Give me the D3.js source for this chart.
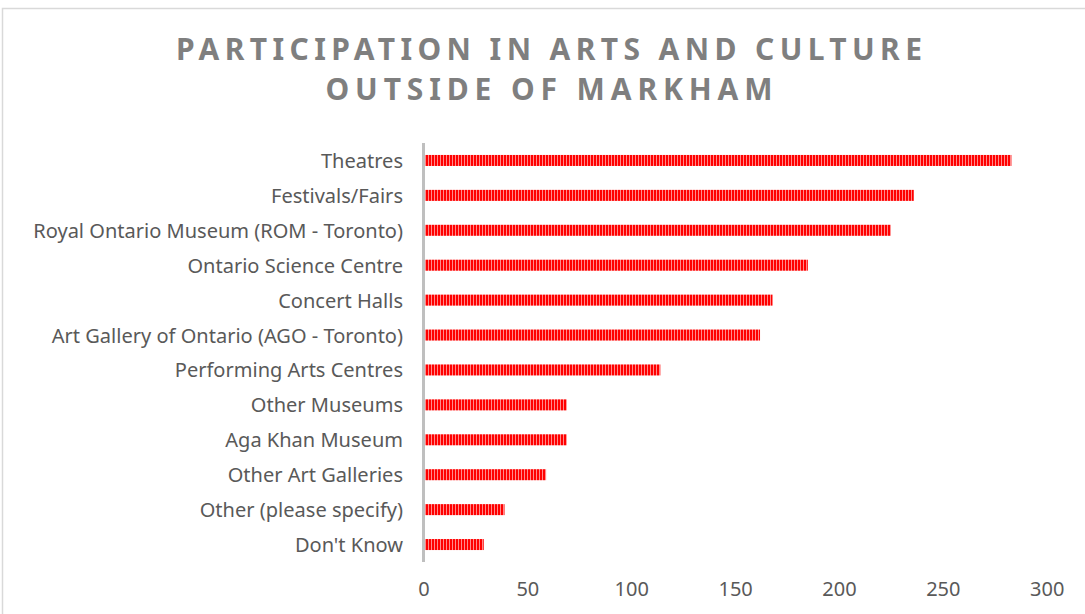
<!DOCTYPE html>
<html lang="en">
    <head>
        <meta charset="utf-8">
        <title>Participation in Arts and Culture</title>
        <script type="text/javascript" src="https://cdnjs.cloudflare.com/ajax/libs/d3/7.8.5/d3.min.js"></script>
        <style>
            body { margin: 0; background: #fff; }
            svg text { font-family: "Noto Sans", "DejaVu Sans", sans-serif; }
        </style>
    </head>
    <body>
        <script type="text/javascript">

            var categories = ["Theatres", "Festivals/Fairs", "Royal Ontario Museum (ROM - Toronto)",
                "Ontario Science Centre", "Concert Halls", "Art Gallery of Ontario (AGO - Toronto)",
                "Performing Arts Centres", "Other Museums", "Aga Khan Museum",
                "Other Art Galleries", "Other (please specify)", "Don't Know"];
            var values = [283, 236, 225, 185, 168, 162, 114, 69, 69, 59, 39, 29];
            var xTicks = [0, 50, 100, 150, 200, 250, 300];
            var titleLines = ["PARTICIPATION IN ARTS AND CULTURE", "OUTSIDE OF MARKHAM"];

            var w = 1085;
            var h = 614;

            var svg = d3.select("body")
                .append("svg")
                .attr("width", w)
                .attr("height", h);

            // stripe pattern for the bars
            var pat = svg.append("defs")
                .append("pattern")
                .attr("id", "stripes")
                .attr("patternUnits", "userSpaceOnUse")
                .attr("width", 3)
                .attr("height", 10);
            pat.append("rect").attr("width", 3).attr("height", 10).attr("fill", "#ff8a8a");
            pat.append("rect").attr("width", 2).attr("height", 10).attr("fill", "#ff0000");

            // chart frame
            svg.append("rect")
                .attr("x", 2.5)
                .attr("y", 8.5)
                .attr("width", w + 10)
                .attr("height", h + 10)
                .attr("fill", "none")
                .attr("stroke", "#d9d9d9")
                .attr("stroke-width", 1.5);

            // title
            var titleWidths = [746, 447];
            svg.selectAll(".title")
                .data(titleLines)
                .enter()
                .append("text")
                .attr("class", "title")
                .attr("x", 549)
                .attr("y", function(d, i){ return 60 + i * 40; })
                .attr("text-anchor", "middle")
                .attr("textLength", function(d, i){ return titleWidths[i]; })
                .attr("lengthAdjust", "spacing")
                .style("font-size", "30px")
                .style("font-weight", "bold")
                .attr("fill", "#7f7f7f")
                .text(function(d){ return d; });

            var xScale = d3.scaleLinear()
                .domain([0, 300])
                .range([423.5, 1046.7]);

            var yScale = d3.scaleBand()
                .domain(categories)
                .range([143, 562])
                .paddingInner(0.685)
                .paddingOuter(0.3425);

            svg.selectAll(".bar")
                .data(values)
                .enter()
                .append("rect")
                .attr("class", "bar")
                .attr("x", xScale(0))
                .attr("y", function(d, i){ return yScale(categories[i]); })
                .attr("width", function(d){ return xScale(d) - xScale(0); })
                .attr("height", yScale.bandwidth())
                .attr("fill", "url(#stripes)");

            // category labels
            var labels = svg.selectAll(".cat")
                .data(categories)
                .enter()
                .append("text")
                .attr("class", "cat")
                .attr("x", 403)
                .attr("y", function(d){ return yScale(d) + yScale.bandwidth() / 2 + 7.5; })
                .attr("text-anchor", "end")
                .attr("fill", "#595959")
                .style("font-size", "18px")
                .text(function(d){ return d; });

            // fit label size so the longest one spans like the reference
            var longest = 0;
            labels.each(function(){ longest = Math.max(longest, this.getComputedTextLength()); });
            var fs = 18 * 370 / longest;
            labels.style("font-size", fs + "px");

            // x axis labels, no line
            var xAxis = d3.axisBottom(xScale)
                .tickValues(xTicks)
                .tickSize(0)
                .tickPadding(0);
            var gx = svg.append("g")
                .attr("transform", "translate(0,582)")
                .call(xAxis);
            gx.select(".domain").remove();
            gx.selectAll("text")
                .attr("dy", 0)
                .attr("y", 14)
                .attr("fill", "#595959")
                .style("font-family", "\"Noto Sans\", sans-serif")
                .style("font-size", "20px");

            // vertical axis line
            svg.append("line")
                .attr("x1", 423.5)
                .attr("x2", 423.5)
                .attr("y1", 143)
                .attr("y2", 562)
                .attr("stroke", "#bfbfbf")
                .attr("stroke-width", 3);

        </script>
    </body>
</html>
